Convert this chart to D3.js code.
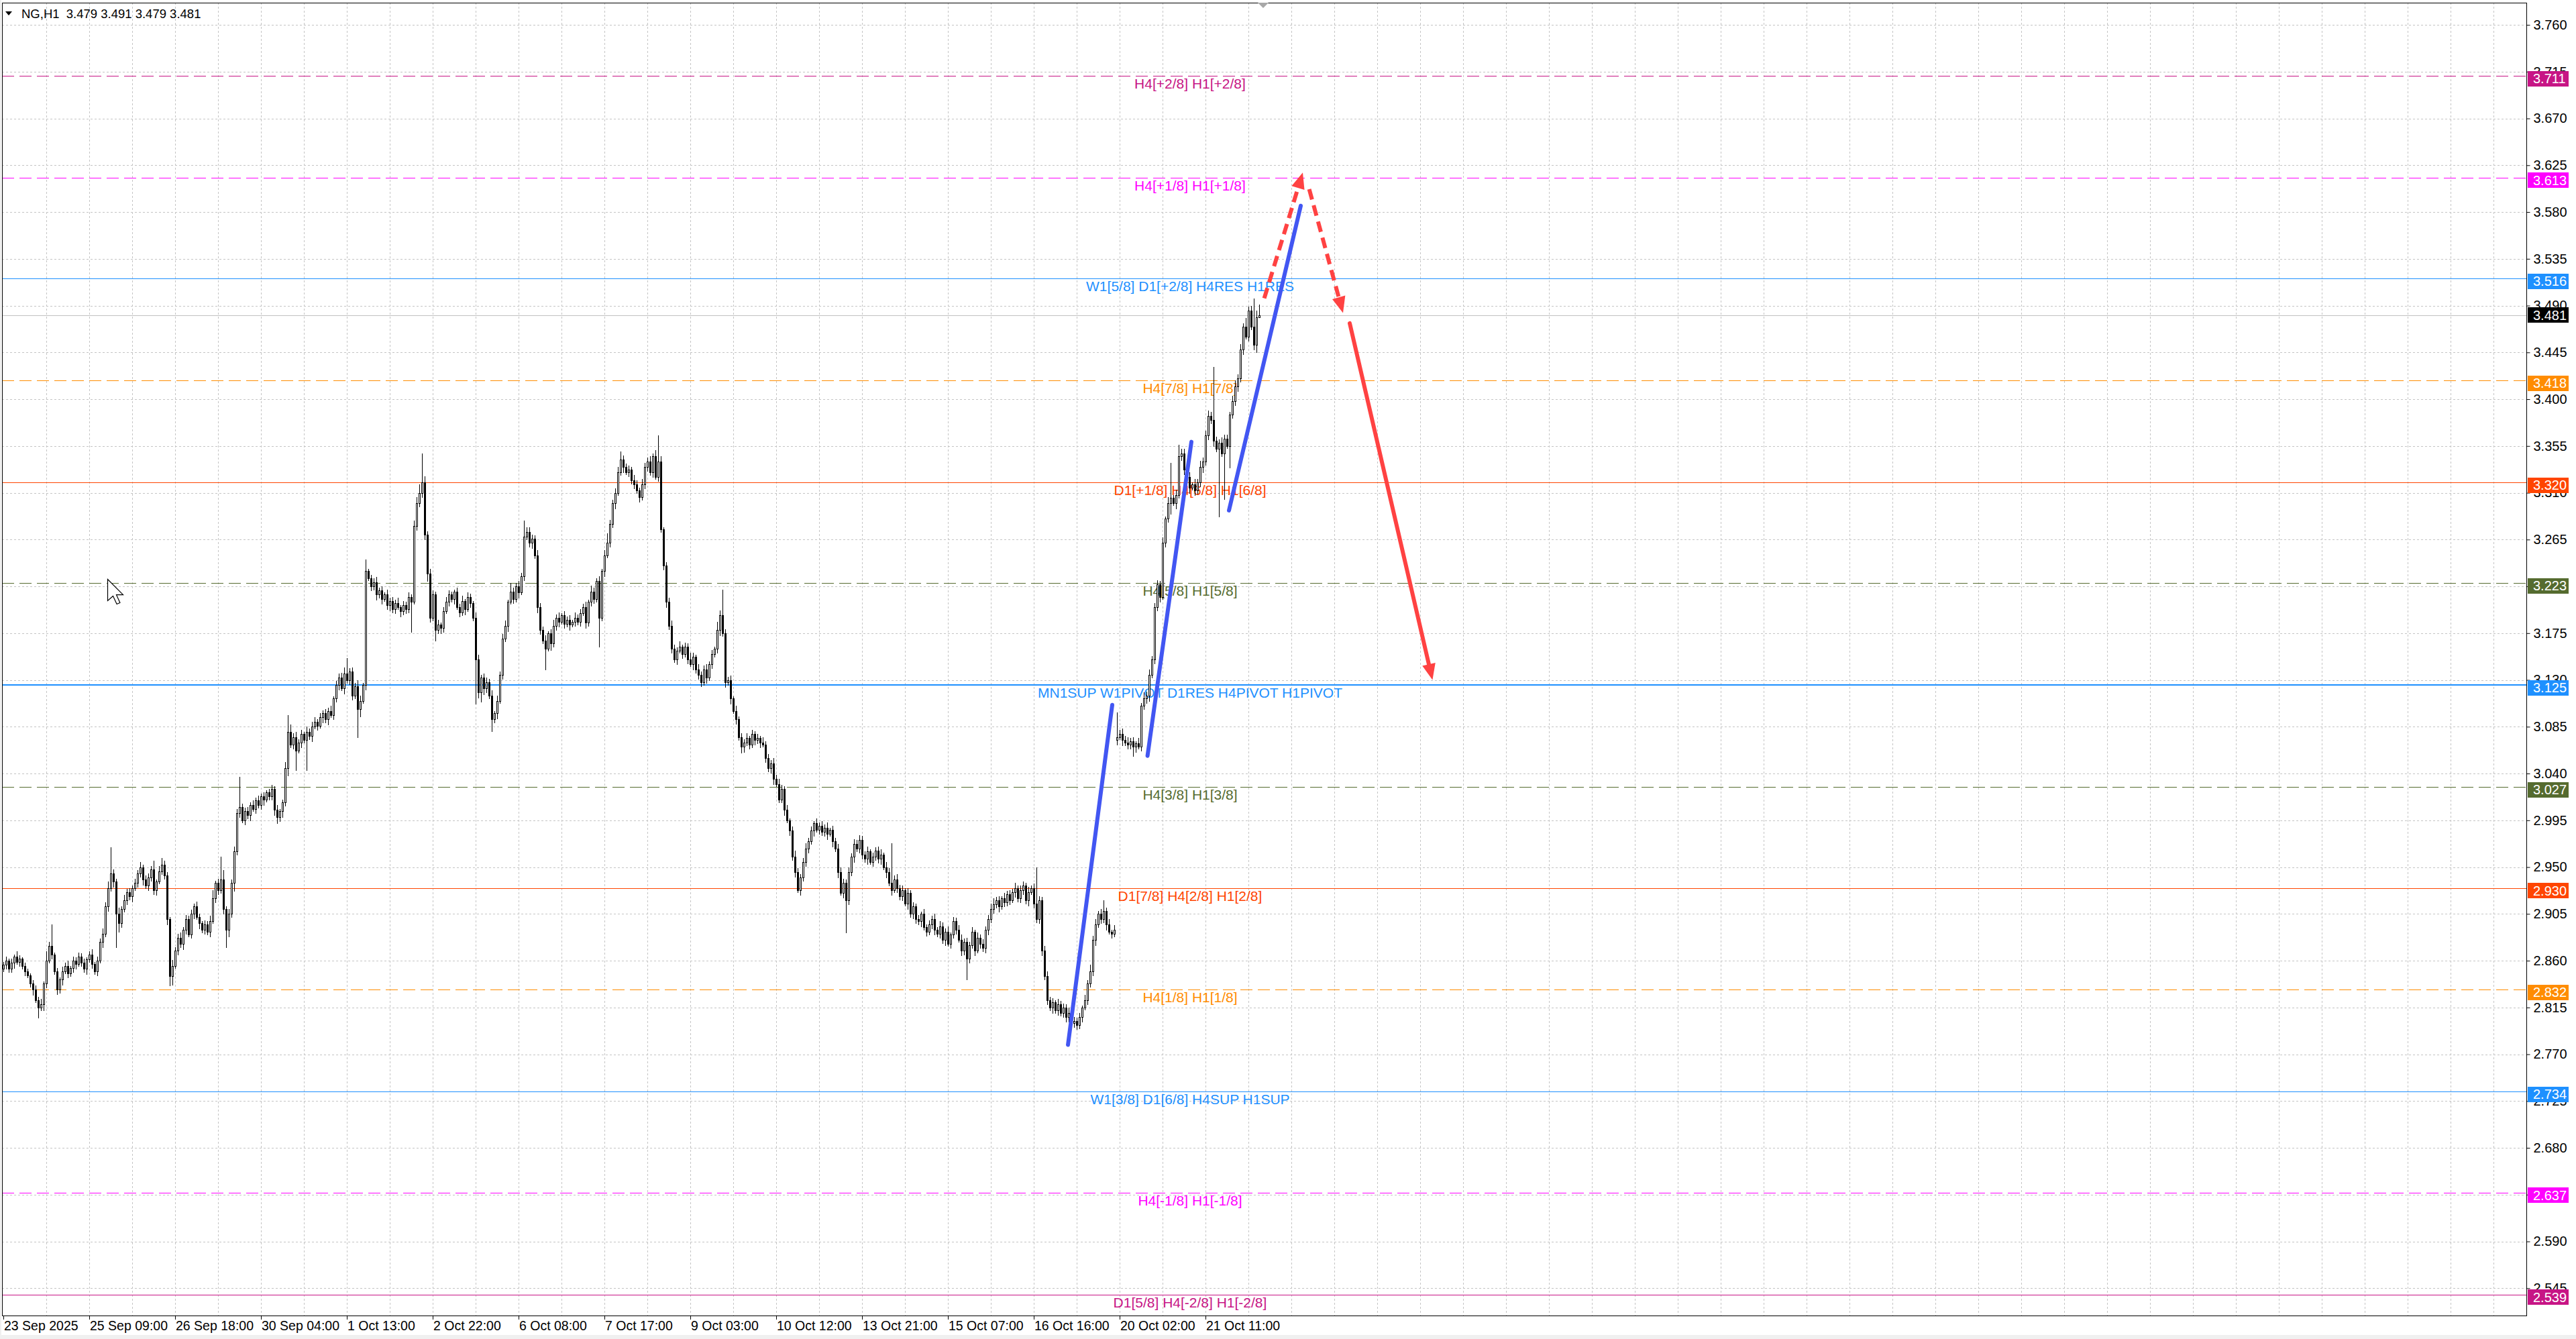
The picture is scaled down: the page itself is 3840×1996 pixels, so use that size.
<!DOCTYPE html>
<html><head><meta charset="utf-8">
<script src="https://cdn.jsdelivr.net/npm/d3@7"></script>
<style>
body{margin:0;background:#fff}
svg{display:block}
text{font-family:"Liberation Sans",Arial,sans-serif}
</style>
</head><body>
<svg id="c" width="3840" height="1996"></svg>
<script>
// ---------------- DATA ----------------
const symbolTitle = "NG,H1  3.479 3.491 3.479 3.481";
const closes = [
2.856,2.860,2.852,2.858,2.864,2.859,2.862,2.855,2.850,2.846,
2.838,2.832,2.822,2.815,2.818,2.838,2.860,2.874,2.866,2.850,
2.832,2.842,2.850,2.855,2.848,2.853,2.860,2.857,2.864,2.858,
2.852,2.861,2.866,2.857,2.850,2.860,2.878,2.886,2.912,2.930,
2.944,2.936,2.905,2.896,2.910,2.918,2.926,2.922,2.930,2.935,
2.944,2.950,2.938,2.932,2.940,2.948,2.928,2.936,2.946,2.952,
2.942,2.900,2.845,2.855,2.870,2.882,2.876,2.890,2.900,2.885,
2.905,2.912,2.902,2.896,2.890,2.895,2.888,2.898,2.920,2.935,
2.928,2.938,2.910,2.890,2.905,2.935,2.965,3.002,3.008,2.995,
3.004,3.000,3.010,3.006,3.014,3.010,3.018,3.015,3.022,3.018,
3.025,3.005,2.998,3.004,3.012,3.045,3.080,3.068,3.075,3.062,
3.070,3.078,3.072,3.080,3.076,3.085,3.090,3.086,3.094,3.098,
3.092,3.100,3.096,3.112,3.125,3.132,3.122,3.136,3.130,3.138,
3.115,3.124,3.102,3.110,3.125,3.235,3.228,3.220,3.224,3.212,
3.216,3.208,3.212,3.202,3.206,3.198,3.204,3.200,3.196,3.202,
3.198,3.210,3.205,3.278,3.300,3.310,3.320,3.270,3.232,3.190,
3.212,3.178,3.183,3.180,3.196,3.205,3.212,3.208,3.215,3.200,
3.195,3.206,3.198,3.210,3.204,3.190,3.150,3.118,3.132,3.122,
3.128,3.115,3.092,3.098,3.110,3.135,3.170,3.182,3.205,3.215,
3.208,3.220,3.214,3.230,3.268,3.272,3.262,3.266,3.250,3.200,
3.178,3.168,3.160,3.175,3.165,3.182,3.190,3.186,3.192,3.184,
3.188,3.183,3.186,3.190,3.186,3.194,3.200,3.185,3.205,3.215,
3.208,3.225,3.190,3.235,3.250,3.262,3.280,3.300,3.310,3.330,
3.342,3.335,3.330,3.332,3.322,3.318,3.312,3.306,3.318,3.335,
3.340,3.330,3.345,3.325,3.340,3.275,3.240,3.205,3.182,3.160,
3.150,3.158,3.162,3.155,3.162,3.150,3.145,3.152,3.140,3.135,
3.128,3.140,3.132,3.145,3.155,3.160,3.178,3.192,3.175,3.128,
3.130,3.112,3.100,3.092,3.075,3.066,3.070,3.074,3.068,3.078,
3.072,3.074,3.070,3.068,3.055,3.045,3.050,3.035,3.030,3.015,
3.025,3.005,2.995,2.985,2.960,2.945,2.928,2.940,2.955,2.968,
2.975,2.985,2.992,2.986,2.990,2.984,2.988,2.982,2.986,2.975,
2.968,2.945,2.925,2.935,2.918,2.945,2.960,2.972,2.968,2.976,
2.962,2.958,2.965,2.955,2.960,2.966,2.958,2.962,2.950,2.945,
2.935,2.928,2.938,2.930,2.922,2.928,2.915,2.925,2.905,2.912,
2.900,2.898,2.905,2.892,2.888,2.895,2.900,2.890,2.886,2.893,
2.880,2.888,2.876,2.885,2.898,2.890,2.880,2.870,2.878,2.862,
2.875,2.888,2.870,2.882,2.876,2.872,2.890,2.900,2.910,2.914,
2.918,2.912,2.920,2.916,2.924,2.918,2.926,2.930,2.920,2.928,
2.932,2.918,2.926,2.930,2.915,2.900,2.918,2.870,2.845,2.822,
2.815,2.820,2.812,2.818,2.810,2.815,2.806,2.810,2.800,2.802,
2.798,2.806,2.815,2.822,2.838,2.850,2.880,2.895,2.905,2.900,
2.908,2.895,2.888,2.886,2.890,3.075,3.078,3.072,3.070,3.068,
3.071,3.066,3.069,3.066,3.105,3.112,3.115,3.135,3.150,3.200,
3.222,3.210,3.262,3.285,3.300,3.305,3.300,3.308,3.345,3.348,
3.332,3.325,3.315,3.318,3.312,3.320,3.335,3.340,3.365,3.384,
3.380,3.360,3.352,3.358,3.348,3.362,3.355,3.385,3.398,3.412,
3.420,3.448,3.470,3.460,3.485,3.470,3.452,3.479,3.481];
// opens differing from previous close: [barIndex, open]
const openOverrides = [[0,2.852],[415,3.072],[468,3.479]];
// upper / lower wick lengths in thousandths (read per bar)
const wickUp = "3424253132 2343529412 3243524343 4235243546 9436253424 3524438257 4326345243 4353243582 4692535493 3424353423 4352369745 3425354243 4352445693 4365282345 3425343524 3425689635 4352454324 3524325434 4352534528 4353555435 4352463524 3425343526 4352594345 6434354354 4536752345 4352436425 3453428554 3425343524 3425343545 4352464345 3425343524 3454353545 4352434525 4345342534 3425343525 4352434534 3425353456 3425343524 4352474345 3425343524 3425364535 4352434545 3425364534 4352643524 4352536455 4343544356 453845462";
const wickDn = "2433524342 3524364243 4352434523 3524342534 3528434352 4352434523 3568243542 3425343524 4352738342 4352434523 3524637342 2524352425 3524342534 4357242435 3524534253 4352434574 3635424352 4352434596 4363524352 4352434535 4352634524 3524342534 4363524352 3524342534 4352434534 3524342534 4352434535 3524365343 4352434523 3524342534 4352434525 3524643534 4352434525 3524342534 4352434534 3524342545 4352434534 3524342534 4352434534 3524342534 4352434534 3524342534 4352434534 3524342534 4352434534 3524342534 435243453";
// long wicks: [barIndex, price]
const highSpikes = [[18,2.895],[40,2.969],[81,2.960],[88,3.037],[106,3.096],[128,3.151],[135,3.246],[156,3.348],[194,3.283],[230,3.350],[244,3.365],[268,3.217],[331,2.973],[385,2.950],[410,2.918],[415,3.099],[435,3.339],[438,3.356],[451,3.431],[466,3.497],[468,3.491]];
const lowSpikes = [[13,2.805],[42,2.873],[62,2.836],[83,2.873],[102,2.992],[109,3.043],[113,3.043],[132,3.075],[152,3.176],[161,3.168],[176,3.107],[182,3.081],[202,3.140],[222,3.162],[314,2.887],[359,2.842],[396,2.801],[421,3.057],[435,3.290],[453,3.287],[455,3.304],[457,3.334],[467,3.445],[468,3.479]];

const levelPrices = [3.711,3.613,3.516,3.418,3.320,3.223,3.125,3.027,2.930,2.832,2.734,2.637,2.539];
const levelNames = ["H4[+2/8] H1[+2/8]","H4[+1/8] H1[+1/8]","W1[5/8] D1[+2/8] H4RES H1RES","H4[7/8] H1[7/8]","D1[+1/8] H4[6/8] H1[6/8]","H4[5/8] H1[5/8]","MN1SUP W1PIVOT D1RES H4PIVOT H1PIVOT","H4[3/8] H1[3/8]","D1[7/8] H4[2/8] H1[2/8]","H4[1/8] H1[1/8]","W1[3/8] D1[6/8] H4SUP H1SUP","H4[-1/8] H1[-1/8]","D1[5/8] H4[-2/8] H1[-2/8]"];
const bidPrice = 3.481;

const yTicks = [3.760,3.715,3.670,3.625,3.580,3.535,3.490,3.445,3.400,3.355,3.310,3.265,3.220,3.175,3.130,3.085,3.040,2.995,2.950,2.905,2.860,2.815,2.770,2.725,2.680,2.635,2.590,2.545];
const timeLabels = ["23 Sep 2025","25 Sep 09:00","26 Sep 18:00","30 Sep 04:00","1 Oct 13:00","2 Oct 22:00","6 Oct 08:00","7 Oct 17:00","9 Oct 03:00","10 Oct 12:00","13 Oct 21:00","15 Oct 07:00","16 Oct 16:00","20 Oct 02:00","21 Oct 11:00"];
const timeLabelBars = [0,32,64,96,128,160,192,224,256,288,320,352,384,416,448];

// drawn trend lines: [[bar, price],[bar, price]]
const blueLines = [[[396.75,2.779],[413.25,3.106]],[[426.4,3.057],[442.75,3.359]],[[456.75,3.293],[483.5,3.586]]];
const redDashedArrows = [[[469.9,3.497],[484.25,3.618]],[[486.65,3.602],[499.25,3.483]]];
const redSolidArrows = [[[501.75,3.473],[532.6,3.130]]];
const cursorAt = [38.75, 3.227];
const shiftMarkerBar = 469.5;

// ---------------- STYLE ----------------
const levelStyle = [
 {c:"#C71585",d:"18,8",w:1},{c:"#FF00FF",d:"18,8",w:1},{c:"#1E90FF",d:null,w:1},
 {c:"#FF8C00",d:"18,8",w:1},{c:"#FF4500",d:null,w:1},{c:"#556B2F",d:"18,8",w:1},
 {c:"#1E90FF",d:null,w:2},{c:"#556B2F",d:"18,8",w:1},{c:"#FF4500",d:null,w:1},
 {c:"#FF8C00",d:"18,8",w:1},{c:"#1E90FF",d:null,w:1},{c:"#FF00FF",d:"18,8",w:1},
 {c:"#C71585",d:null,w:1}];
const L=3, T=4, R=3766, B=1961;

// ---------------- BUILD ----------------
const svg = d3.select("#c");
const x = d3.scaleLinear().domain([0,940]).range([5,3765]);
const y = d3.scaleLinear().domain([3.711,2.539]).range([113,1929.6]);

svg.append("defs").append("clipPath").attr("id","pc").append("rect")
  .attr("x",L).attr("y",T).attr("width",R-L).attr("height",B-T);

// frame background strips
svg.append("rect").attr("x",0).attr("y",1990).attr("width",3840).attr("height",6).attr("fill","#f0f0f0");
svg.append("rect").attr("x",0).attr("y",0).attr("width",2).attr("height",1996).attr("fill","#f0f0f0");

const plot = svg.append("g").attr("clip-path","url(#pc)");

// grid
const gridBars = d3.range(16, 940, 16);
plot.append("g").selectAll("line").data(gridBars).join("line")
  .attr("x1",d=>Math.round(x(d))+0.5).attr("x2",d=>Math.round(x(d))+0.5)
  .attr("y1",T).attr("y2",B).attr("stroke","#c4c4c4").attr("stroke-dasharray","3,3");
plot.append("g").selectAll("line").data(yTicks).join("line")
  .attr("x1",L).attr("x2",R).attr("y1",d=>Math.round(y(d))+0.5).attr("y2",d=>Math.round(y(d))+0.5)
  .attr("stroke","#c4c4c4").attr("stroke-dasharray","3,3");

// bid line
plot.append("line").attr("x1",L).attr("x2",R)
  .attr("y1",Math.round(y(bidPrice))+0.5).attr("y2",Math.round(y(bidPrice))+0.5)
  .attr("stroke","#c0c0c0");

// level lines
const lv = plot.append("g");
levelPrices.forEach((p,k)=>{
  const st = levelStyle[k];
  const yy = Math.round(y(p)) + (st.w===1?0.5:0);
  lv.append("line").attr("x1",L).attr("x2",R).attr("y1",yy).attr("y2",yy)
    .attr("stroke",st.c).attr("stroke-width",st.w)
    .attr("stroke-dasharray",st.d);
  lv.append("text").attr("x",1774).attr("y",y(p)+19).attr("text-anchor","middle")
    .attr("font-size",21).attr("fill",st.c).text(levelNames[k]);
});

// candles
const wu = wickUp.replace(/\s/g,""), wd = wickDn.replace(/\s/g,"");
const hiMap = new Map(highSpikes), loMap = new Map(lowSpikes), opMap = new Map(openOverrides);
const bars = closes.map((c,i)=>{
  const o = opMap.has(i) ? opMap.get(i) : closes[i-1];
  let h = Math.max(o,c) + (+wu[i]||0)/1000;
  let l = Math.min(o,c) - (+wd[i]||0)/1000;
  if (hiMap.has(i)) h = Math.max(hiMap.get(i), Math.max(o,c));
  if (loMap.has(i)) l = Math.min(loMap.get(i), Math.min(o,c));
  return {i,o,h,l,c};
});
const cg = plot.append("g");
bars.forEach(b=>{
  const cx = Math.round(x(b.i));
  cg.append("line").attr("x1",cx+0.5).attr("x2",cx+0.5)
    .attr("y1",Math.round(y(b.h))).attr("y2",Math.round(y(b.l))+1)
    .attr("stroke","#000").attr("stroke-width",1);
  const top = Math.round(y(Math.max(b.o,b.c))), bot = Math.round(y(Math.min(b.o,b.c)));
  if (bot - top < 1) {
    cg.append("line").attr("x1",cx-1).attr("x2",cx+2).attr("y1",top+0.5).attr("y2",top+0.5).attr("stroke","#000");
  } else {
    cg.append("rect").attr("x",cx-0.5).attr("y",top+0.5).attr("width",2).attr("height",bot-top)
      .attr("fill", b.c>=b.o ? "#fff" : "#000").attr("stroke","#000").attr("stroke-width",1);
  }
});

// trend lines
const tg = plot.append("g");
blueLines.forEach(s=>{
  tg.append("line").attr("x1",x(s[0][0])).attr("y1",y(s[0][1])).attr("x2",x(s[1][0])).attr("y2",y(s[1][1]))
    .attr("stroke","#4256F2").attr("stroke-width",6).attr("stroke-linecap","round");
});
function arrow(s, dashed){
  const x1=x(s[0][0]), y1=y(s[0][1]), x2=x(s[1][0]), y2=y(s[1][1]);
  const dx=x2-x1, dy=y2-y1, len=Math.hypot(dx,dy), ux=dx/len, uy=dy/len;
  const hl=24, hw=10;
  const bx=x2-ux*hl, by=y2-uy*hl;
  tg.append("line").attr("x1",x1).attr("y1",y1).attr("x2",bx+ux*2).attr("y2",by+uy*2)
    .attr("stroke","#FF4242").attr("stroke-width",6)
    .attr("stroke-dasharray",dashed?"16,9":null).attr("stroke-linecap",dashed?"butt":"round");
  tg.append("path").attr("d",`M${x2},${y2}L${bx-uy*hw},${by+ux*hw}L${bx+uy*hw},${by-ux*hw}Z`)
    .attr("fill","#FF4242");
}
redDashedArrows.forEach(s=>arrow(s,true));
redSolidArrows.forEach(s=>arrow(s,false));

// cursor
const cx0 = Math.round(x(cursorAt[0])), cy0 = Math.round(y(cursorAt[1]));
plot.append("path").attr("transform",`translate(${cx0+0.5},${cy0+0.5}) scale(2)`)
  .attr("d","M0,0L0,16L4,12.5L6.8,18.5L9.2,17.5L6.5,11.6L11.5,11.6Z")
  .attr("fill","#fff").attr("stroke","#000").attr("stroke-width",0.6);

// plot border
svg.append("rect").attr("x",L+0.5).attr("y",T+0.5).attr("width",R-L).attr("height",B-T)
  .attr("fill","none").attr("stroke","#000");

// shift marker
const sx = Math.round(x(shiftMarkerBar));
svg.append("path").attr("d",`M${sx-8},${T}L${sx+8},${T}L${sx},${T+8}Z`).attr("fill","#a8a8a8");

// header
svg.append("path").attr("d","M8,17L18,17L13,23Z").attr("fill","#000");
svg.append("text").attr("x",32).attr("y",27).attr("font-size",18.5).attr("fill","#000")
  .attr("xml:space","preserve").style("white-space","pre").text(symbolTitle);

// right axis
const ya = d3.axisRight(y).tickValues(yTicks).tickSize(5).tickPadding(5).tickFormat(d3.format(".3f"));
const yg = svg.append("g").attr("transform",`translate(${R+0.5},0)`).call(ya);
yg.select(".domain").remove();
yg.selectAll("text").attr("font-size",20).attr("fill","#000").attr("font-family","'Liberation Sans',Arial,sans-serif");
yg.selectAll("line").attr("stroke","#000");

// price boxes (level boxes sit slightly below their line, bid box centred)
const boxes = levelPrices.map((p,k)=>({p, c:levelStyle[k].c, off:4})).concat([{p:bidPrice,c:"#000",off:0}]);
const bg = svg.append("g");
boxes.forEach(b=>{
  const yy = y(b.p) + b.off;
  bg.append("rect").attr("x",3768).attr("y",Math.round(yy-11.5)).attr("width",61).attr("height",23).attr("fill",b.c);
  bg.append("text").attr("x",3776).attr("y",yy).attr("dy","0.35em").attr("font-size",20).attr("fill","#fff")
    .text(d3.format(".3f")(b.p));
});

// bottom axis
const xg = svg.append("g");
timeLabelBars.forEach((bi,k)=>{
  const tx = Math.round(x(bi));
  xg.append("line").attr("x1",tx+0.5).attr("x2",tx+0.5).attr("y1",B).attr("y2",B+6).attr("stroke","#000");
  xg.append("text").attr("x",tx+1).attr("y",1983).attr("font-size",19.5).attr("fill","#000").text(timeLabels[k]);
});
</script>
</body></html>
